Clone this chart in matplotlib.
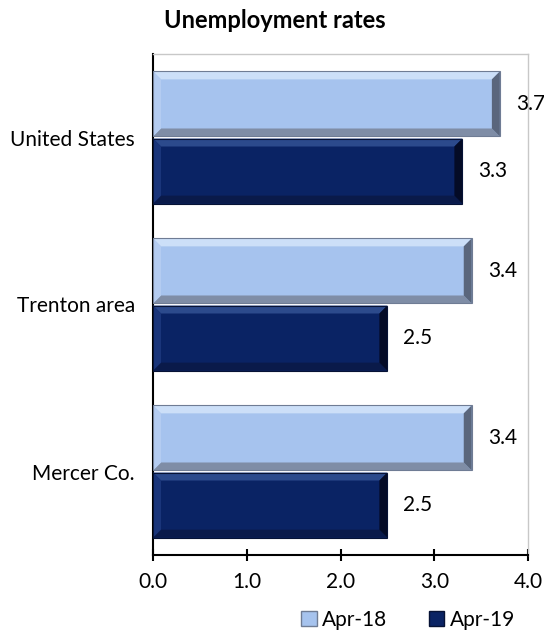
import matplotlib
matplotlib.use("Agg")
import matplotlib.pyplot as plt
from matplotlib.patches import Polygon, Rectangle, Patch
import numpy as np

categories = ["United States", "Trenton area", "Mercer Co."]
apr18 = [3.7, 3.4, 3.4]
apr19 = [3.3, 2.5, 2.5]
series_names = ["Apr-18", "Apr-19"]
xticks = [0.0, 1.0, 2.0, 3.0, 4.0]

plt.rcParams['font.family'] = ['Lato', 'DejaVu Sans']

fig = plt.figure(figsize=(5.44, 6.34), dpi=100)
ax = fig.add_axes([153/544, 1-555/634, (528-153)/544, (555-54)/634])

light = "#A6C3EE"
dark = "#0A2364"

y = np.arange(len(categories))[::-1].astype(float)
h = 0.39
gap = 0.012
bars1 = ax.barh(y + h/2 + gap/2, apr18, height=h, color=light, zorder=2)
bars2 = ax.barh(y - h/2 - gap/2, apr19, height=h, color=dark, zorder=2)

ax.set_xlim(0, 4.0)
ax.set_ylim(-0.5, len(categories) - 0.5)

def bevel(bar, top, bot, right, left, edge):
    x0, y0 = bar.get_x(), bar.get_y()
    w, hh = bar.get_width(), bar.get_height()
    x1, y1 = x0 + w, y0 + hh
    dx = 8 / (ax.bbox.width / 4.0)
    dy = 8 / (ax.bbox.height / 3.0)
    ix0, ix1, iy0, iy1 = x0 + dx, x1 - dx, y0 + dy, y1 - dy
    ax.add_patch(Polygon([(x0, y1), (x1, y1), (ix1, iy1), (ix0, iy1)],
                         closed=True, color=top, lw=0, zorder=3))
    ax.add_patch(Polygon([(x0, y0), (x1, y0), (ix1, iy0), (ix0, iy0)],
                         closed=True, color=bot, lw=0, zorder=3))
    ax.add_patch(Polygon([(x1, y0), (x1, y1), (ix1, iy1), (ix1, iy0)],
                         closed=True, color=right, lw=0, zorder=3))
    ax.add_patch(Polygon([(x0, y0), (x0, y1), (ix0, iy1), (ix0, iy0)],
                         closed=True, color=left, lw=0, zorder=3))
    ax.add_patch(Rectangle((x0, y0), w, hh, fill=False, ec=edge, lw=0.8, zorder=4))

for b in bars1:
    bevel(b, "#CCDFF8", "#7F8DA6", "#5A667C", "#B4CCF1", "#6F7C94")
for b in bars2:
    bevel(b, "#2C4A8C", "#0A1A4A", "#040B26", "#1A357A", "#061235")

for bars, vals in ((bars1, apr18), (bars2, apr19)):
    for b, v in zip(bars, vals):
        ax.annotate(f"{v:.1f}", (b.get_width(), b.get_y() + b.get_height()/2),
                    xytext=(16, 0), textcoords="offset pixels",
                    va="center", ha="left", fontsize=15, color="#000000", zorder=5,
                    annotation_clip=False)

ax.set_yticks(y)
ax.set_yticklabels(categories, fontsize=15)
ax.set_xticks(xticks)
ax.set_xticklabels([f"{t:.1f}" for t in xticks], fontsize=15)
ax.tick_params(axis='y', length=0, pad=13)
ax.tick_params(axis='x', direction='inout', length=9, width=1.5, pad=8)

for s in ("top", "right"):
    ax.spines[s].set_color("#C8C8C8")
    ax.spines[s].set_linewidth(1.0)
for s in ("left", "bottom"):
    ax.spines[s].set_color("black")
    ax.spines[s].set_linewidth(1.5)

fig.text(275/544, 1-21/634, "Unemployment rates", ha="center", va="center",
         fontsize=17, fontweight="bold")

handles = [Patch(facecolor=light, edgecolor="#6F7C94"), Patch(facecolor=dark, edgecolor="#061235")]
fig.legend(handles, series_names, loc="center", bbox_to_anchor=(408/544, 1-620/634),
           ncol=2, frameon=False, fontsize=15, handlelength=0.75, handleheight=0.75,
           handletextpad=0.25, columnspacing=2.0, borderaxespad=0, borderpad=0)

fig.savefig("out.png", dpi=100)
